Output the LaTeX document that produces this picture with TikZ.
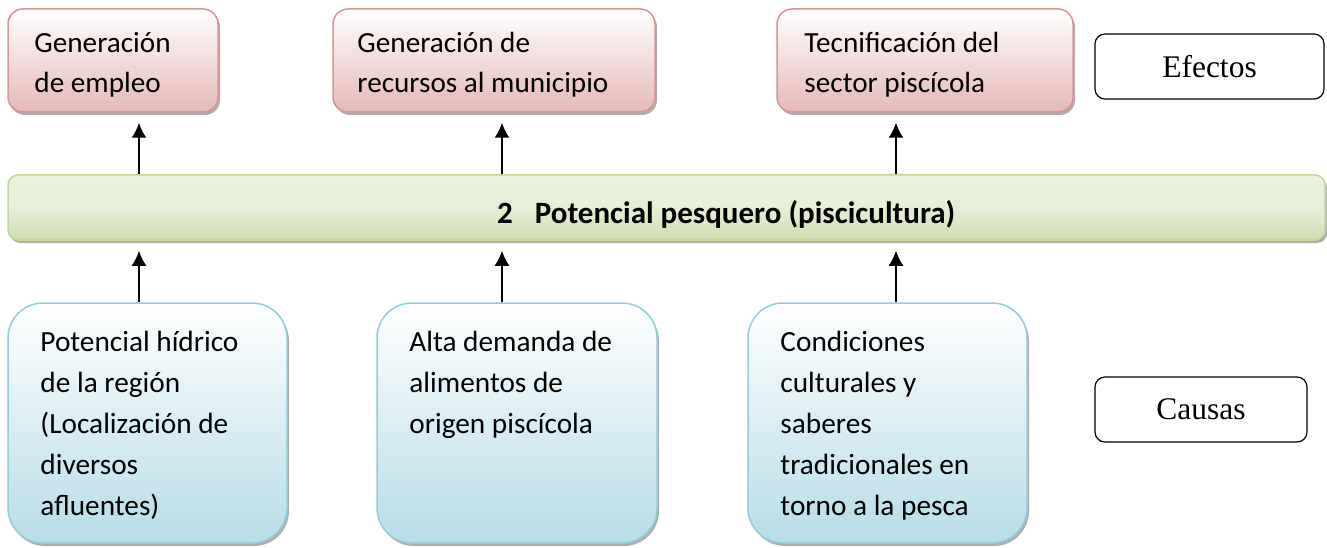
\documentclass[tikz,border=0pt]{standalone}
\usepackage{fontspec}
\setmainfont{Carlito}
\newfontfamily\timesfont{Liberation Serif}
\definecolor{cRosa}{HTML}{D99594}
\definecolor{cRosaFondo}{HTML}{E5B8B7}
\definecolor{cAzul}{HTML}{92CDDC}
\definecolor{cAzulFondo}{HTML}{B6DDE8}
\definecolor{cVerde}{HTML}{C2D69B}
\definecolor{cVerdeFondo}{HTML}{EAF1DD}
\usetikzlibrary{shadows}
\usetikzlibrary{arrows.meta}
\usetikzlibrary{calc}

\begin{document}
\begin{tikzpicture}[x=1pt,y=-1pt,
	sombra/.style={drop shadow={shadow xshift=2pt, shadow yshift=-3pt, fill=black!45, opacity=0.7}},
	efecto/.style={rectangle, rounded corners=15pt, draw=cRosa, line width=1.5pt, top color=white, bottom color=cRosaFondo, sombra, minimum height=103, inner sep=0pt},
	causa/.style={rectangle, rounded corners=35pt, draw=cAzul, line width=1.5pt, top color=white, bottom color=cAzulFondo, sombra, minimum height=240, inner sep=0pt},
	eje/.style={rectangle, rounded corners=10pt, draw=cVerde, line width=1.5pt, top color=cVerdeFondo, bottom color=cVerde!80, middle color=cVerdeFondo!90!cVerde, sombra, minimum width=1317, minimum height=65, inner sep=0pt},
	tipo/.style={rectangle, rounded corners=10pt, draw=black, line width=1.2pt, minimum height=65, inner sep=0pt, font=\timesfont\fontsize{31.5}{36}\selectfont},
	txt/.style={anchor=base west, align=left, inner sep=0pt, font=\fontsize{29.2}{40}\selectfont},
	txtc/.style={anchor=base west, align=left, inner sep=0pt, font=\fontsize{29.3}{41}\selectfont},
	flecha/.style={line width=2pt, -{Latex[length=15pt,width=15pt]}, shorten >=10pt}]
	\useasboundingbox (0,0) rectangle (1327,548);
	% efectos (texto anclado en la linea base de la ultima linea)
	\node[efecto, minimum width=210] (ef1) at (113,60.5) {};
	\node[efecto, minimum width=322] (ef2) at (494,60.5) {};
	\node[efecto, minimum width=296] (ef3) at (925,60.5) {};
	\node[txt] at ($(ef1.north west)+(27,84)$) {Generación\\de empleo};
	\node[txt] at ($(ef2.north west)+(25,84)$) {Generación de\\recursos al municipio};
	\node[txt] at ($(ef3.north west)+(28,84)$) {Tecnificación del\\sector piscícola};
	% problema central
	\node[eje] (pc) at (666.5,207.5) {};
	\node[anchor=base west, inner sep=0pt, font=\bfseries\fontsize{31}{36}\selectfont] (pct) at (497,223) {2\hspace{22pt}Potencial pesquero (piscicultura)};
	% causas
	\node[causa, minimum width=279] (ca1) at (147.5,423) {};
	\node[causa, minimum width=280] (ca2) at (517,423) {};
	\node[causa, minimum width=279] (ca3) at (887.5,423) {};
	\node[txtc] at ($(ca1.north west)+(33,213)$) {Potencial hídrico\\de la región\\(Localización de\\diversos\\afluentes)};
	\node[txtc] at ($(ca2.north west)+(33,131)$) {Alta demanda de\\alimentos de\\origen piscícola};
	\node[txtc] at ($(ca3.north west)+(33,213)$) {Condiciones\\culturales y\\saberes\\tradicionales en\\torno a la pesca};
	% etiquetas
	\node[tipo, minimum width=229] (efectos) at (1209.5,66.5) {Efectos};
	\node[tipo, minimum width=212] (causas) at (1201,409.5) {Causas};
	% flechas
	\coordinate (a1) at (139,0);
	\coordinate (a2) at (502,0);
	\coordinate (a3) at (896,0);
	\foreach \a/\e/\c in {a1/ef1/ca1, a2/ef2/ca2, a3/ef3/ca3} {
		\draw[flecha] (pc.north -| \a) -- (\e.south -| \a);
		\draw[flecha] (\c.north -| \a) -- (pc.south -| \a);
	}
\end{tikzpicture}
\end{document}
